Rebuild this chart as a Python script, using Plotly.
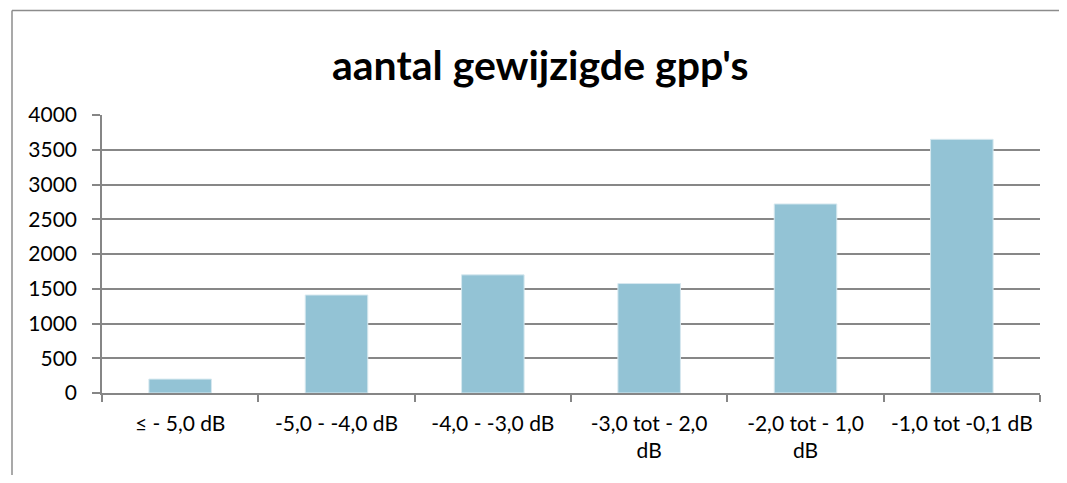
import plotly.graph_objects as go

categories = ["≤ - 5,0 dB", "-5,0 - -4,0 dB", "-4,0 - -3,0 dB",
              "-3,0 tot - 2,0<br>dB", "-2,0 tot - 1,0<br>dB", "-1,0 tot -0,1 dB"]
values = [200, 1410, 1700, 1575, 2720, 3650]
y_ticks = [0, 500, 1000, 1500, 2000, 2500, 3000, 3500, 4000]
title_text = "aantal gewijzigde gpp's"

FONT = "Lato"
OFF = 8  # page body margin
W, H = 1067 - 2 * OFF, 483 - 2 * OFF
L, T = 102 - OFF, 115 - OFF
R = W - (1040 - OFF)
B = H - (393 - OFF)
pw, ph = W - L - R, H - T - B


def px_x(x):
    return (x - OFF - L) / pw


def px_y(y):
    return (H - B - (y - OFF)) / ph


fig = go.Figure(go.Bar(
    x=categories, y=values,
    marker=dict(color="#93C3D5", line=dict(color="#D6E8EF", width=1)),
    width=0.4,
))

fig.update_layout(
    width=W, height=H,
    margin=dict(l=L, r=R, t=T, b=B, pad=0),
    paper_bgcolor="white", plot_bgcolor="white",
    showlegend=False,
    font=dict(family=FONT, size=21, color="#000000"),
    annotations=[dict(
        text="<b>" + title_text + "</b>", x=px_x(540), y=px_y(64),
        xref="paper", yref="paper", showarrow=False,
        xanchor="center", yanchor="middle",
        font=dict(family=FONT, size=41, color="#000000"),
    )],
    shapes=[
        dict(type="line", xref="paper", yref="paper",
             x0=px_x(12), x1=px_x(1080), y0=px_y(10.5), y1=px_y(10.5),
             line=dict(color="#8C8C8C", width=1.5)),
        dict(type="line", xref="paper", yref="paper",
             x0=px_x(12), x1=px_x(12), y0=px_y(10.5), y1=px_y(500),
             line=dict(color="#8C8C8C", width=1.5)),
    ],
)

fig.update_xaxes(
    showline=True, linecolor="#868686", linewidth=1.5,
    ticks="outside", ticklen=7, tickcolor="#868686", tickwidth=1.5,
    tickson="boundaries", showgrid=False, ticklabelstandoff=11,
    tickfont=dict(family=FONT, size=21, color="#000000"),
)
fig.update_yaxes(
    range=[0, 4000], tickvals=y_ticks,
    showline=True, linecolor="#868686", linewidth=1.5,
    ticks="outside", ticklen=8, tickcolor="#868686", tickwidth=1.5,
    showgrid=True, gridcolor="#878787", gridwidth=1.5,
    zeroline=False, ticklabelstandoff=11,
    tickfont=dict(family=FONT, size=21, color="#000000"),
)

fig.write_html("out.html")
